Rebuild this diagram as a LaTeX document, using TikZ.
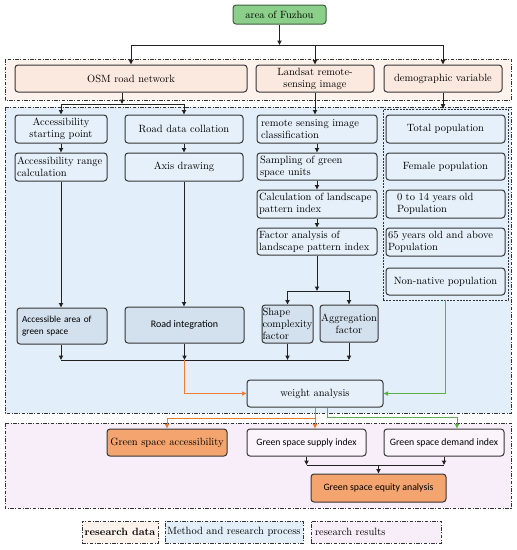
\documentclass[tikz,border=0pt]{standalone}
\usepackage{fontspec}
\newfontfamily\carlito{Carlito}
\usetikzlibrary{arrows.meta}
\definecolor{linec}{HTML}{222222}
\definecolor{bordc}{HTML}{363636}
\definecolor{regc}{HTML}{333333}
\definecolor{fuzc}{HTML}{8CCF8A}
\definecolor{fuzd}{HTML}{3D5E3D}
\definecolor{dregc}{HTML}{FDF2EC}
\definecolor{dboxc}{HTML}{FBE8DF}
\definecolor{mregc}{HTML}{E2EEF9}
\definecolor{mboxc}{HTML}{E6F0FA}
\definecolor{mdarkc}{HTML}{D3E0EE}
\definecolor{rregc}{HTML}{F8EEF9}
\definecolor{rboxc}{HTML}{FBF4FB}
\definecolor{oboxc}{HTML}{F4A46E}
\definecolor{orangec}{HTML}{ED7D31}
\definecolor{greenc}{HTML}{5AB04A}
\tikzset{
  box/.style={draw=bordc, rounded corners=3pt, line width=1pt, inner sep=2pt, align=center},
  dbox/.style={box, fill=dboxc},
  mbox/.style={box, fill=mboxc},
  mdbox/.style={box, fill=mdarkc},
  rbox/.style={box, fill=rboxc},
  obox/.style={box, fill=oboxc},
  ln/.style={draw=linec, line width=1pt},
  arr/.style={draw=linec, line width=1pt, -{Triangle[length=4.5pt,width=4.2pt]}},
  oarr/.style={arr, draw=orangec},
  garr/.style={arr, draw=greenc},
  region/.style={draw=regc, line width=0.8pt, dash pattern=on 3.5pt off 1.5pt on 1pt off 1.5pt},
  popreg/.style={draw=regc, line width=0.8pt, dash pattern=on 2pt off 1.2pt, inner sep=0pt},
}
\begin{document}
\begin{tikzpicture}[x=1pt,y=-1pt,font=\fontsize{10.5}{12}\selectfont]
\useasboundingbox (0,0) rectangle (517,550);
% regions
\draw[region, fill=dregc] (5,59) rectangle (511,100);
\draw[region, fill=mregc] (5,107) rectangle (511,413);
\draw[region, fill=rregc] (5,423) rectangle (511,508);
\node[popreg, minimum width=125, minimum height=191] (popbox) at (445.5,204.5) {};

% top
\node[box, fill=fuzc, draw=fuzd, minimum width=93, minimum height=19] (fuz) at (279.5,14.5) {area of Fuzhou};
\node[dbox, minimum width=232, minimum height=27] (osm) at (131,78.5) {OSM road network};
\node[dbox, minimum width=118, minimum height=27] (landsat) at (315,78.5) {Landsat remote-\\sensing image};
\node[dbox, minimum width=118, minimum height=27] (demo) at (443,78.5) {demographic variable};

% method column 1
\node[mbox, minimum width=92, minimum height=28] (accstart) at (61,129) {Accessibility\\starting point};
\node[mbox, minimum width=92, minimum height=28, align=left, text width=88, inner xsep=2pt] (accrange) at (61,167) {Accessibility range\\calculation};
\node[mbox, minimum width=118, minimum height=28] (roadcoll) at (184,129) {Road data collation};
\node[mbox, minimum width=118, minimum height=28] (axis) at (184,167) {Axis drawing};
% column 3
\node[mbox, minimum width=120, minimum height=28, align=left, text width=112, inner xsep=4pt] (rsclass) at (317,129) {remote sensing image\\classification};
\node[mbox, minimum width=120, minimum height=27, align=left, text width=114, inner xsep=3pt] (sampling) at (317,166.5) {Sampling of green\\space units};
\node[mbox, minimum width=120, minimum height=28, align=left, text width=116, inner xsep=2pt] (calc) at (317,204) {Calculation of landscape\\pattern index};
\node[mbox, minimum width=120, minimum height=27, align=left, text width=116, inner xsep=2pt] (factor) at (317,241.5) {Factor analysis of\\landscape pattern index};
% population
\node[mbox, minimum width=119, minimum height=28] (total) at (445.5,129) {Total population};
\node[mbox, minimum width=119, minimum height=27] (female) at (445.5,166.5) {Female population};
\node[mbox, minimum width=119, minimum height=28, align=left, text width=97, inner xsep=11pt] (young) at (445.5,204) {0 to 14 years old\\Population};
\node[mbox, minimum width=119, minimum height=28, align=left, text width=115, inner xsep=2pt] (old) at (445.5,242) {65 years old and above\\Population};
\node[mbox, minimum width=119, minimum height=27] (nonnat) at (445.5,281.5) {Non-native population};
% factors
\node[mdbox, minimum width=51, minimum height=38, align=left, text width=50, inner xsep=0.5pt] (shape) at (287.5,324) {Shape\\complexity\\factor};
\node[mdbox, minimum width=58, minimum height=37, inner xsep=0.5pt] (aggr) at (349,323.5) {Aggregation\\factor};
\node[mdbox, minimum width=90, minimum height=36, align=left, text width=80, inner xsep=5pt, font=\carlito\fontsize{9.3}{11.5}\selectfont] (accarea) at (62,326) {Accessible area of\\green space};
\node[mdbox, minimum width=119, minimum height=36, font=\carlito\fontsize{10}{11.5}\selectfont] (roadint) at (184.5,325) {Road integration};
\node[mbox, minimum width=136, minimum height=27] (weight) at (315,393.5) {weight analysis};

% results
\node[obox, minimum width=120, minimum height=27] (gsacc) at (167,442.5) {Green space accessibility};
\node[rbox, minimum width=119, minimum height=27, font=\carlito\fontsize{9.7}{11.5}\selectfont] (supply) at (306.5,442.5) {Green space supply index};
\node[rbox, minimum width=120, minimum height=27, font=\carlito\fontsize{9.8}{11.5}\selectfont] (demand) at (444,442.5) {Green space demand index};
\node[obox, minimum width=135, minimum height=28, font=\carlito\fontsize{9.8}{11.5}\selectfont] (equity) at (378.5,488) {Green space equity analysis};

% legend
\node[region, fill=dregc, minimum width=76, minimum height=22, inner xsep=1pt] (leg1) at (120,532) {\textbf{research data}};
\node[region, fill=mregc, minimum width=138, minimum height=22, inner xsep=1pt] (leg2) at (234,532) {Method and research process};
\node[region, fill=rregc, minimum width=130, minimum height=22, align=left, text width=122, inner xsep=4pt] (leg3) at (376,532) {research results};

% connectors top
\coordinate (j1) at (279.5,45);
\draw[arr] (fuz) -- (j1);
\draw[arr] (j1) -| (osm);
\draw[arr] (j1) -| (landsat);
\draw[arr] (j1) -| (demo);
\coordinate (j2) at (122,104);
\draw[arr] (osm.south -| j2) -- (j2);
\draw[arr] (j2) -| (accstart);
\draw[arr] (j2) -| (roadcoll);
\draw[arr] (landsat.south) -- (landsat.south |- rsclass.north);
\draw[arr] (demo.south) -- (demo.south |- popbox.north);
% chains
\draw[arr] (accstart) -- (accrange);
\draw[arr] (roadcoll) -- (axis);
\draw[arr] (rsclass) -- (sampling);
\draw[arr] (sampling) -- (calc);
\draw[arr] (calc) -- (factor);
\draw[arr] (accrange.south) -- (accrange.south |- accarea.north);
\draw[arr] (axis.south) -- (axis.south |- roadint.north);
\coordinate (j3) at (317,291);
\draw[arr] (factor) -- (j3);
\draw[arr] (j3) -| (shape);
\draw[arr] (j3) -| (aggr);
% collector
\coordinate (bl) at (0,360);
\draw[arr] (accstart.south |- accarea.south) -- (accstart.south |- bl);
\draw[arr] (roadint.south) -- (roadint.south |- bl);
\draw[arr] (shape.south) -- (shape.south |- bl);
\draw[arr] (aggr.south) -- (aggr.south |- bl);
\draw[ln] (accstart.south |- bl) -- (aggr.south |- bl);
\draw[oarr] (roadint.south |- bl) |- (weight.west);
\draw[garr] (popbox.south) |- (weight.east);
% below weight
\coordinate (ob) at (0,418);
\draw[oarr] (weight.south) -- (weight.south |- supply.north);
\draw[oarr] (weight.south |- ob) -| (gsacc.north);
\coordinate (gb) at (327,417);
\coordinate (gd) at (457,417);
\draw[garr] (weight.south -| gb) |- (gd) -- (gd |- demand.north);
% supply / demand -> equity
\coordinate (sl) at (0,465);
\draw[arr] (supply.south) -- (supply.south |- sl);
\draw[arr] (demand.south) -- (demand.south |- sl);
\draw[ln] (supply.south |- sl) -- (demand.south |- sl);
\draw[arr] (equity.north |- sl) -- (equity.north);
\end{tikzpicture}
\end{document}
